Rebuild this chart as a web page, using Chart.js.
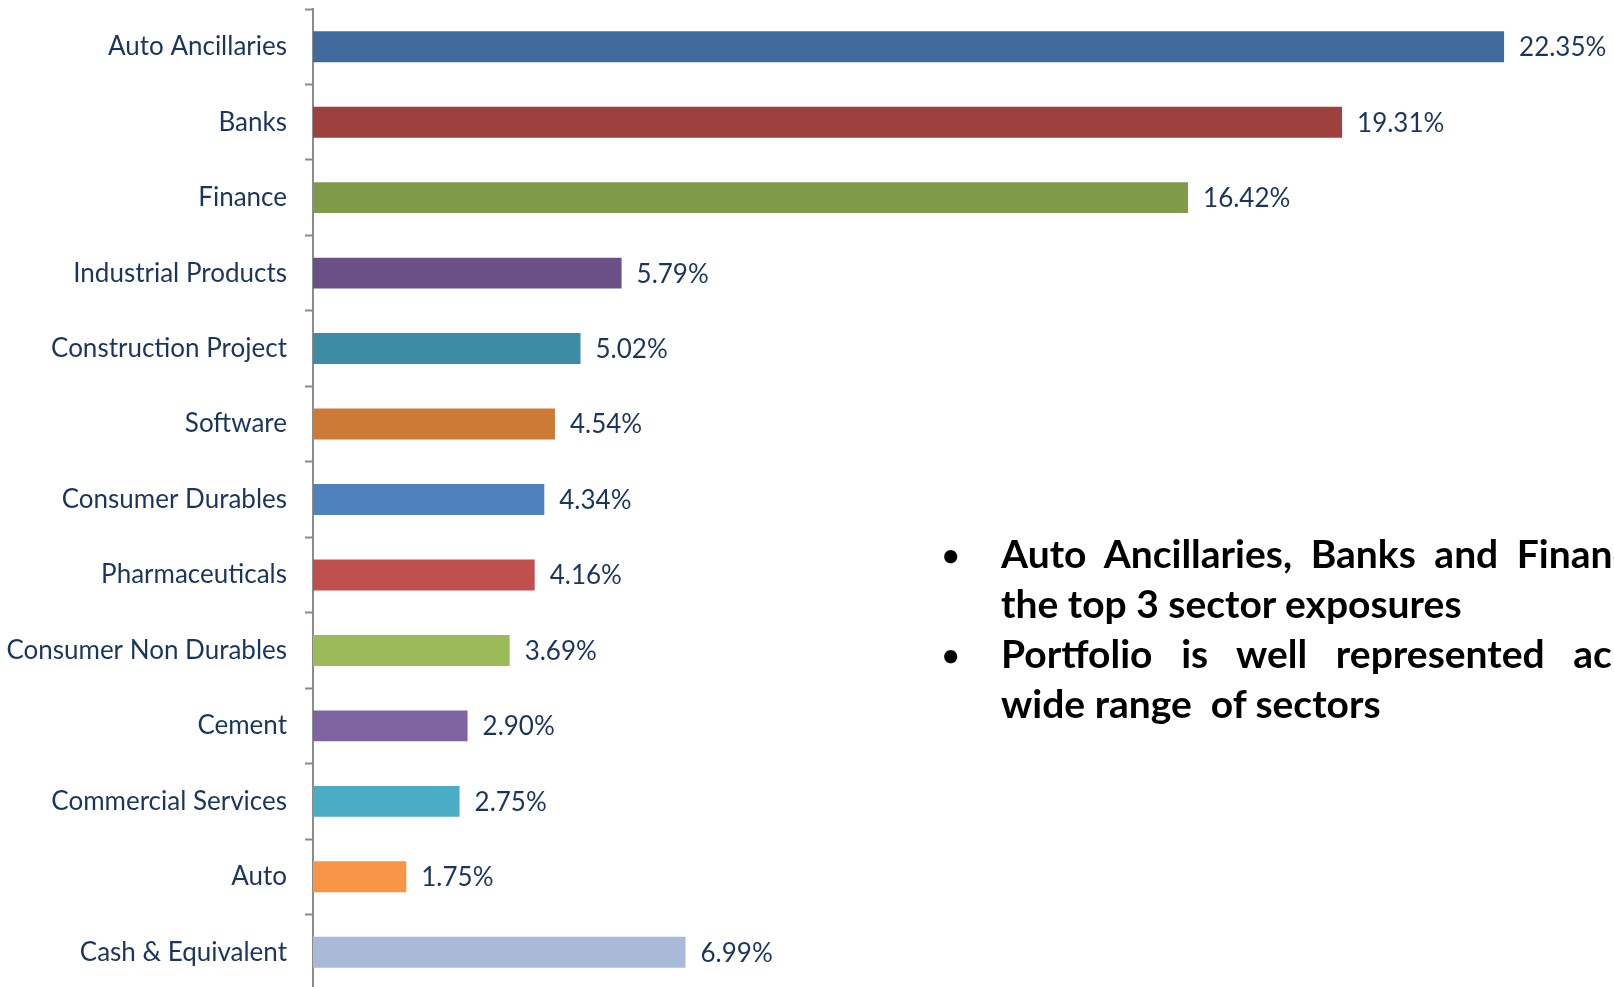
<!DOCTYPE html>
<html>
<head>
<meta charset="utf-8">
<script src="https://cdn.jsdelivr.net/npm/chart.js@4"></script>
<style>
  html, body { margin: 0; padding: 0; background: #ffffff; overflow: hidden; width: 1614px; height: 987px; }
  #wrap { position: absolute; left: 0; top: 0; width: 1614px; height: 996px; }
  .note { position: absolute; font-family: Lato, sans-serif; font-weight: bold; font-size: 39px; line-height: 50px; height: 50px; color: #000; white-space: nowrap; }
  .just { text-align: justify; text-align-last: justify; white-space: normal; overflow: visible; }
  .bullet { position: absolute; font-family: Lato, sans-serif; font-weight: bold; font-size: 30px; line-height: 50px; color: #000; }
</style>
</head>
<body>
<div id="wrap"><canvas id="c" width="1614" height="996"></canvas></div>
<div class="bullet" style="left:942px; top:529px;">•</div>
<div class="note just" style="left:1001px; top:528px; width:760px;">Auto Ancillaries, Banks and Financials are</div>
<div class="note" style="left:1001px; top:578px;">the top 3 sector exposures</div>
<div class="bullet" style="left:942px; top:629px;">•</div>
<div class="note just" style="left:1001px; top:628px; width:730px;">Portfolio is well represented across a</div>
<div class="note" style="left:1001px; top:678px;">wide range&nbsp; of sectors</div>
<script>
const categories = [
  'Auto Ancillaries', 'Banks', 'Finance', 'Industrial Products', 'Construction Project',
  'Software', 'Consumer Durables', 'Pharmaceuticals', 'Consumer Non Durables',
  'Cement', 'Commercial Services', 'Auto', 'Cash & Equivalent'
];
const values = [22.35, 19.31, 16.42, 5.79, 5.02, 4.54, 4.34, 4.16, 3.69, 2.90, 2.75, 1.75, 6.99];
const valueLabels = ['22.35%', '19.31%', '16.42%', '5.79%', '5.02%', '4.54%', '4.34%', '4.16%', '3.69%', '2.90%', '2.75%', '1.75%', '6.99%'];
const barColors = [
  '#3F6A9B', '#9E403E', '#7F9A48', '#6A5086', '#3C8CA3', '#CD7A37',
  '#4F81BD', '#C0504D', '#9BBB59', '#8064A2', '#4BACC6', '#F79646', '#A9B9D8'
];
const xMax = 24;

const valueLabelPlugin = {
  id: 'valueLabels',
  afterDatasetsDraw(chart) {
    const ctx = chart.ctx;
    const meta = chart.getDatasetMeta(0);
    ctx.save();
    ctx.font = '26px Lato';
    ctx.fillStyle = '#1B365D';
    ctx.textAlign = 'left';
    ctx.textBaseline = 'middle';
    meta.data.forEach((bar, i) => {
      ctx.fillText(valueLabels[i], bar.x + 15, bar.y + 1);
    });
    ctx.restore();
  }
};

new Chart(document.getElementById('c'), {
  type: 'bar',
  data: {
    labels: categories,
    datasets: [{
      data: values,
      backgroundColor: barColors,
      borderWidth: 0,
      barPercentage: 0.41,
      categoryPercentage: 1.0
    }]
  },
  options: {
    indexAxis: 'y',
    responsive: false,
    animation: false,
    devicePixelRatio: 1,
    layout: { padding: { left: 0, top: 9, bottom: 6, right: 22 } },
    plugins: { legend: { display: false }, tooltip: { enabled: false } },
    scales: {
      x: { display: false, min: 0, max: xMax },
      y: {
        grid: { offset: true, drawOnChartArea: false, drawTicks: true, tickLength: 8, tickWidth: 2, tickColor: '#8C8C8C' },
        border: { display: true, color: '#8C8C8C', width: 2 },
        ticks: { font: { family: 'Lato', size: 26 }, color: '#1B365D', padding: 18 },
        afterFit(scale) { scale.width = 313; scale.paddingTop = 0; scale.paddingBottom = 0; }
      }
    }
  },
  plugins: [valueLabelPlugin]
});
</script>
</body>
</html>
